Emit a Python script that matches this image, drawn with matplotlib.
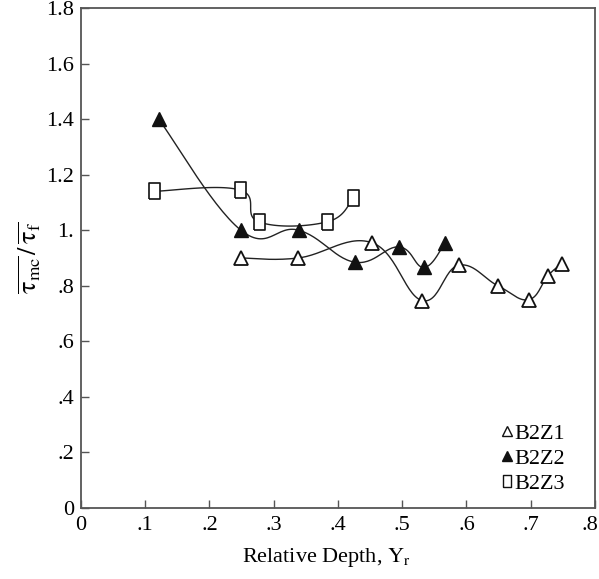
import numpy as np
import matplotlib
matplotlib.use('Agg')
import matplotlib.pyplot as plt
import matplotlib.transforms as mtransforms
from matplotlib.lines import Line2D

plt.rcParams['font.family'] = 'Liberation Serif'
plt.rcParams['mathtext.fontset'] = 'stix'

# B2Z1 - open triangles
x_z1 = [0.249, 0.338, 0.453, 0.531, 0.588, 0.649, 0.697, 0.727, 0.749]
y_z1 = [0.90, 0.90, 0.955, 0.747, 0.874, 0.80, 0.75, 0.837, 0.88]
# B2Z2 - filled triangles
x_z2 = [0.121, 0.249, 0.339, 0.426, 0.495, 0.534, 0.567]
y_z2 = [1.40, 1.00, 1.00, 0.885, 0.94, 0.866, 0.955]
# B2Z3 - open squares
x_z3 = [0.113, 0.247, 0.277, 0.383, 0.424]
y_z3 = [1.14, 1.145, 1.03, 1.03, 1.115]

xticks = [0, 0.1, 0.2, 0.3, 0.4, 0.5, 0.6, 0.7, 0.8]
xlabels = ['0', '.1', '.2', '.3', '.4', '.5', '.6', '.7', '.8']
yticks = [0, 0.2, 0.4, 0.6, 0.8, 1.0, 1.2, 1.4, 1.6, 1.8]
ylabels = ['0', '.2', '.4', '.6', '.8', '1.', '1.2', '1.4', '1.6', '1.8']


def smooth(x, y, num=30, k=0.6):
    # cardinal curve through the points (scaled so both axes count alike)
    p = np.column_stack([np.asarray(x, float) / 0.8, np.asarray(y, float) / 1.8])
    p = np.vstack([p[0], p, p[-1]])
    out = []
    for i in range(1, len(p) - 2):
        p1, p2 = p[i], p[i + 1]
        m1 = k * (p[i + 1] - p[i - 1])
        m2 = k * (p[i + 2] - p[i])
        t = np.linspace(0, 1, num)[:, None]
        h00 = 2 * t**3 - 3 * t**2 + 1
        h10 = t**3 - 2 * t**2 + t
        h01 = -2 * t**3 + 3 * t**2
        h11 = t**3 - t**2
        out.append(h00 * p1 + h10 * m1 + h01 * p2 + h11 * m2)
    out = np.vstack(out)
    return out[:, 0] * 0.8, out[:, 1] * 1.8


fig = plt.figure(figsize=(5.99, 5.79), dpi=100)
ax = fig.add_axes([0.1352, 0.1226, 0.858, 0.8636])

sq = [(-0.36, -0.5), (0.36, -0.5), (0.36, 0.5), (-0.36, 0.5), (-0.36, -0.5)]

for xv, yv in [(x_z1, y_z1), (x_z2, y_z2), (x_z3, y_z3)]:
    sx, sy = smooth(xv, yv)
    ax.plot(sx, sy, color='#222222', lw=1.0, zorder=1)

ax.plot(x_z1, y_z1, ls='none', marker='^', ms=10, mfc='white', mec='#111111', mew=1.3, zorder=3)
ax.plot(x_z2, y_z2, ls='none', marker='^', ms=10, mfc='#111111', mec='#111111', mew=1.0, zorder=3)
ax.plot(x_z3, y_z3, ls='none', marker=sq, ms=11, mfc='white', mec='#111111', mew=1.2, zorder=3)

ax.set_xlim(0, 0.8)
ax.set_ylim(0, 1.8)
ax.set_xticks(xticks)
ax.set_xticklabels(xlabels)
ax.set_yticks(yticks)
ax.set_yticklabels(ylabels)
ax.tick_params(direction='in', length=6, width=1.0, color='#555555', labelsize=16)
ax.tick_params(axis='x', pad=6)
ax.tick_params(axis='y', pad=5)
for sp in ax.spines.values():
    sp.set_color('#555555')
    sp.set_linewidth(1.3)

# last x label sits right at the edge; nudge it in a bit
lab = ax.get_xticklabels()[-1]
lab.set_transform(lab.get_transform() + mtransforms.ScaledTranslation(-5 / 100, 0, fig.dpi_scale_trans))

ax.set_xlabel('Relative Depth, $\\mathrm{Y_r}$', fontsize=16, labelpad=5)
ax.xaxis.set_label_coords(0.478, -0.075)
ax.set_ylabel('$\\overline{\\mathrm{\\tau_{mc}}}\\,/\\,\\overline{\\mathrm{\\tau_f}}$', fontsize=19, labelpad=2)

handles = [
    Line2D([], [], ls='none', marker='^', ms=7, mfc='white', mec='#111111', mew=1.0),
    Line2D([], [], ls='none', marker='^', ms=7, mfc='#111111', mec='#111111'),
    Line2D([], [], ls='none', marker=sq, ms=8, mfc='white', mec='#111111', mew=1.0),
]
ax.legend(handles, ['B2Z1', 'B2Z2', 'B2Z3'], loc='lower right', bbox_to_anchor=(0.98, -0.012),
          frameon=False, fontsize=16, handlelength=0.5, handletextpad=0.05, labelspacing=0.2)

fig.savefig('out.png', dpi=100)
